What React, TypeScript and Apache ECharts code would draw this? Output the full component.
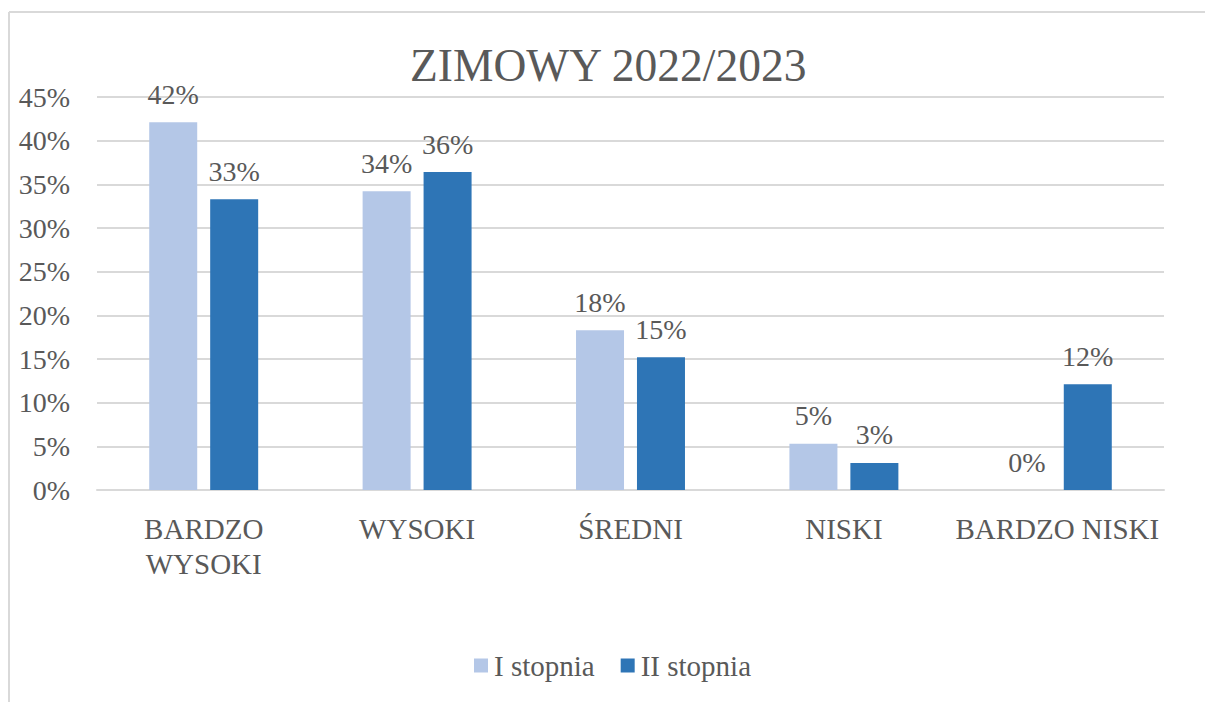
import React, { useEffect, useRef } from "react";
import * as echarts from "echarts";

const categories = ["BARDZO\nWYSOKI", "WYSOKI", "ŚREDNI", "NISKI", "BARDZO NISKI"];
const seriesNames = ["I stopnia", "II stopnia"];
const stopnia1 = [42.1, 34.2, 18.3, 5.3, 0];
const stopnia2 = [33.3, 36.4, 15.2, 3.1, 12.1];
const colors = ["#B4C7E7", "#2E75B6"];
const titleText = "ZIMOWY 2022/2023";

const FONT = "'Liberation Serif', 'Times New Roman', serif";
const TEXT = "#595959";

export default function App() {
  const ref = useRef<HTMLDivElement>(null);
  useEffect(() => {
    if (!ref.current) return;
    const chart = echarts.init(ref.current, null, { renderer: "svg" });
    const label = {
      show: true,
      position: "top",
      distance: 14,
      fontFamily: FONT,
      fontSize: 28,
      color: TEXT,
      formatter: (p: any) => Math.round(p.value) + "%",
    };
    chart.setOption({
      animation: false,
      backgroundColor: "#ffffff",
      textStyle: { fontFamily: FONT },
      title: {
        text: titleText,
        left: 405,
        top: 37,
        textStyle: { fontFamily: FONT, fontSize: 45.5, fontWeight: "normal", color: TEXT },
      },
      legend: {
        data: seriesNames,
        bottom: 22,
        left: 474,
        padding: 0,
        itemWidth: 14,
        itemHeight: 14,
        itemGap: 26,
        icon: "rect",
        textStyle: { fontFamily: FONT, fontSize: 29, color: TEXT, padding: [0, 0, 0, 1] },
      },
      grid: { left: 97, right: 41, top: 97, bottom: 212 },
      xAxis: {
        type: "category",
        data: categories,
        axisLine: { show: true, lineStyle: { color: "#D9D9D9", width: 2 } },
        axisTick: { show: false },
        axisLabel: {
          fontFamily: FONT,
          fontSize: 29,
          color: TEXT,
          margin: 21,
          lineHeight: 35,
          interval: 0,
        },
      },
      yAxis: {
        type: "value",
        min: 0,
        max: 45,
        interval: 5,
        axisLine: { show: false },
        axisTick: { show: false },
        splitLine: { lineStyle: { color: "#D9D9D9", width: 2 } },
        axisLabel: {
          fontFamily: FONT,
          fontSize: 28,
          color: TEXT,
          margin: 27,
          formatter: "{value}%",
        },
      },
      series: [
        {
          name: seriesNames[0],
          type: "bar",
          data: stopnia1,
          barWidth: 48,
          barGap: "27%",
          itemStyle: { color: colors[0] },
          label,
        },
        {
          name: seriesNames[1],
          type: "bar",
          data: stopnia2,
          barWidth: 48,
          barGap: "27%",
          itemStyle: { color: colors[1] },
          label,
        },
      ],
      graphic: [
        { type: "line", shape: { x1: 9, y1: 12, x2: 1205, y2: 12 }, style: { stroke: "#D9D9D9", lineWidth: 2 } },
        { type: "line", shape: { x1: 9, y1: 12, x2: 9, y2: 702 }, style: { stroke: "#D9D9D9", lineWidth: 2 } },
      ],
    });
    return () => chart.dispose();
  }, []);
  return (
    <div
      ref={ref}
      style={{ position: "absolute", left: 0, top: 0, width: 1205, height: 702 }}
    />
  );
}
